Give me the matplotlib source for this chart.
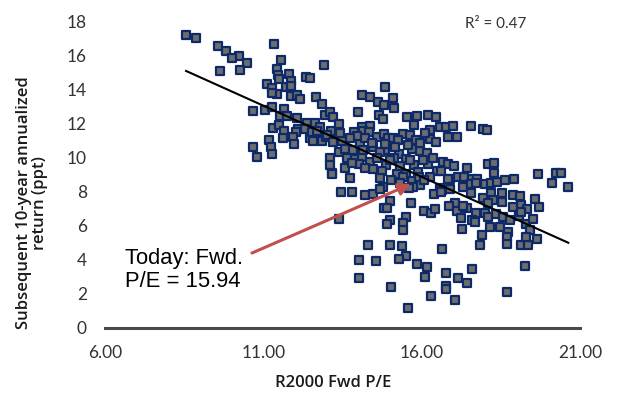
import numpy as np
import matplotlib
matplotlib.use("Agg")
import matplotlib.pyplot as plt

# Russell 2000 forward P/E vs. subsequent 10-year annualized return (ppt)
pe = [
    8.56, 8.86, 9.56, 9.81, 10.22, 10.00, 10.47, 9.64, 10.26, 11.34,
    11.55, 11.44, 11.45, 11.81, 11.50, 11.87, 11.12, 11.27, 11.73, 11.88,
    11.42, 11.26, 11.87, 12.06, 12.16, 12.35, 12.47, 10.66, 11.05, 11.27,
    11.64, 11.54, 11.75, 12.07, 12.37, 11.29, 11.49, 11.65, 12.08, 12.32,
    12.02, 11.63, 11.93, 11.19, 11.97, 11.23, 10.66, 11.28, 10.81, 12.47,
    12.92, 14.84, 12.66, 12.84, 14.12, 14.38, 14.63, 14.82, 15.09, 15.13,
    14.00, 14.65, 14.78, 15.55, 15.84, 15.77, 16.19, 16.44, 16.58, 16.77,
    16.98, 17.56, 17.95, 18.07, 16.82, 17.10, 16.26, 16.26, 16.45,
    12.95, 13.12, 13.21, 13.40, 12.63, 12.79, 12.53, 12.69, 12.58, 12.84,
    12.97, 13.14, 13.35, 13.49, 13.12, 13.10, 13.16, 13.39, 13.58, 13.63,
    13.82,
    13.87, 14.10, 14.37, 14.16, 14.34, 14.05, 13.89, 14.10, 14.47, 14.60,
    14.81, 14.93, 15.10, 15.40, 15.63, 15.82, 14.84, 14.68, 15.29, 15.13,
    15.50, 15.71, 15.95, 16.16, 14.03, 14.37, 14.45, 14.87, 14.74, 15.21,
    15.50, 15.76, 15.89, 16.21, 16.47, 16.66, 16.84, 13.74, 14.68, 15.42,
    16.26,
    13.42, 13.00, 13.21, 13.95, 14.21, 13.74, 14.43, 14.84, 15.25, 15.57,
    15.95, 16.10, 15.16, 14.15, 15.00, 14.60, 14.21, 15.31, 15.63, 16.04,
    16.36, 13.58, 13.80, 15.03, 15.69, 15.95, 16.58,
    17.02, 17.42, 18.08, 18.29, 18.29, 19.68, 20.24, 20.39, 20.10, 20.63,
    16.62, 16.91, 17.16, 17.34, 17.58, 17.76, 18.00, 18.18, 18.39, 18.63,
    18.90, 16.63, 16.91, 17.29, 17.55, 17.57, 17.71, 18.19, 18.24, 18.55,
    18.54, 18.87, 19.10, 19.13, 18.87, 19.58, 19.70, 19.33, 17.05, 17.12,
    17.42, 17.71, 17.23, 17.58, 17.68, 18.00, 18.10, 18.35, 18.58, 18.80,
    19.06, 19.15, 19.31, 19.53, 19.41, 19.63, 18.16, 18.47, 18.73, 17.26,
    17.89, 18.68, 18.71, 17.83, 19.14, 19.37, 19.29, 16.63, 19.26, 17.58,
    16.78, 17.16, 17.44, 16.77, 16.77, 18.71, 17.06, 17.29, 17.95, 18.11,
    13.16, 13.44, 13.79, 14.21, 14.45, 14.79, 14.68, 15.32, 15.72, 15.61,
    15.90, 16.08, 14.99, 14.80, 14.92, 15.66, 15.00, 14.91, 15.49, 15.42,
    15.40, 16.07, 16.28, 16.42, 16.40, 16.61, 16.84, 16.87, 13.39, 14.31,
    15.00, 15.37, 15.50, 15.28, 14.01, 14.56, 15.84, 16.18, 16.09, 14.03,
    15.02, 16.30, 15.58,
]
ret = [
    17.24, 17.04, 16.57, 16.31, 16.02, 15.86, 15.61, 15.10, 15.19, 16.71,
    15.76, 15.22, 14.88, 14.96, 14.63, 14.53, 14.34, 14.14, 14.18, 14.25,
    13.76, 13.84, 13.66, 13.69, 13.47, 14.75, 14.69, 12.75, 12.82, 13.02,
    12.86, 12.49, 12.47, 12.34, 12.04, 11.76, 11.94, 11.59, 11.72, 11.71,
    11.51, 11.18, 11.25, 11.06, 10.84, 10.66, 10.63, 10.22, 10.06, 11.18,
    15.45, 14.18, 13.57, 13.18, 13.69, 13.57, 13.31, 13.12, 13.51, 12.92,
    12.72, 12.51, 12.28, 12.39, 12.45, 11.94, 12.53, 12.41, 11.84, 11.84,
    11.90, 11.90, 11.71, 11.65, 11.24, 11.24, 11.63, 11.10, 10.92,
    12.53, 12.69, 12.43, 11.98, 12.04, 11.84, 11.55, 11.59, 11.00, 11.00,
    11.22, 11.59, 11.06, 11.00, 10.02, 9.59, 9.14, 10.37, 10.53, 10.02,
    10.47,
    11.55, 11.84, 11.90, 11.59, 11.55, 10.86, 9.94, 10.08, 10.63, 11.25,
    11.39, 11.16, 11.16, 11.39, 11.35, 11.08, 10.47, 10.37, 10.22, 9.98,
    9.94, 10.53, 10.41, 10.28, 9.63, 9.78, 9.35, 9.59, 9.24, 9.04,
    9.04, 9.59, 9.20, 9.63, 9.24, 9.78, 9.65, 8.84, 8.81, 8.90,
    8.90,
    11.49, 11.35, 10.96, 11.30, 11.18, 11.18, 10.88, 10.82, 11.06, 10.76,
    10.88, 11.47, 10.65, 10.47, 9.88, 9.98, 9.41, 9.53, 9.88, 9.88,
    10.00, 9.41, 9.71, 8.71, 8.65, 8.41, 8.24,
    9.55, 9.39, 9.63, 9.69, 9.09, 9.06, 9.14, 9.12, 8.55, 8.31,
    9.21, 8.75, 8.90, 8.90, 8.79, 8.75, 8.50, 8.55, 8.61, 8.71,
    8.79, 8.10, 8.18, 8.31, 8.45, 7.96, 8.55, 7.96, 7.53, 7.43,
    7.92, 7.85, 7.79, 7.26, 7.09, 7.58, 7.12, 7.01, 7.38, 6.88,
    7.04, 6.79, 6.47, 6.35, 6.21, 6.74, 6.53, 6.68, 6.55, 6.35,
    6.59, 6.84, 6.12, 6.41, 5.76, 5.22, 5.96, 5.92, 5.65, 5.82,
    5.50, 5.37, 4.93, 4.87, 4.87, 4.89, 5.37, 4.66, 3.63, 3.47,
    3.24, 2.97, 2.62, 2.50, 2.32, 2.10, 1.62, 7.16, 7.63, 7.34,
    9.06, 8.00, 8.00, 7.82, 7.88, 8.28, 8.18, 8.51, 8.31, 8.22,
    8.90, 8.71, 7.47, 7.04, 7.04, 7.34, 6.35, 6.12, 6.55, 6.19,
    5.76, 6.88, 6.78, 7.00, 7.86, 8.02, 8.75, 7.18, 6.39, 4.86,
    4.86, 4.84, 4.25, 4.08, 4.00, 3.96, 3.76, 3.57, 3.02, 2.97,
    2.42, 1.87, 1.16,
]

today_pe = 15.94
r_squared = 0.47
x_ticks = [6, 11, 16, 21]
y_ticks = list(range(0, 19, 2))

# callout arrow: from the label towards today's valuation in the cloud
arrow_start = (10.64, 4.41)
arrow_end = (15.66, 8.47)

pe = np.asarray(pe)
ret = np.asarray(ret)

fig = plt.figure(figsize=(6.31, 3.94), dpi=100)
ax = fig.add_axes([105 / 631, 66 / 394, 475 / 631, 306 / 394])

tick_font = dict(family="Lato", weight="normal", size=12.5, color="#333333")
label_font = dict(family="Open Sans", weight="semibold", size=12, color="#1a1a1a")

ax.scatter(pe, ret, marker="s", s=27, facecolor="#6d6d6d",
           edgecolor="#0c2a6a", linewidth=1.6, zorder=3)

# least-squares trend line across the data range
slope, intercept = np.polyfit(pe, ret, 1)
xs = np.array([pe.min(), pe.max()])
ax.plot(xs, intercept + slope * xs, color="black", lw=1.5, zorder=4)

ax.set_xlim(6, 21)
ax.set_ylim(0, 18)
ax.set_xticks(x_ticks)
ax.set_xticklabels([f"{v:.2f}" for v in x_ticks], fontdict=tick_font)
ax.set_yticks(y_ticks)
ax.set_yticklabels([str(v) for v in y_ticks], fontdict=tick_font)
ax.tick_params(axis="both", length=0)
ax.tick_params(axis="x", pad=12)
ax.tick_params(axis="y", pad=13)

for side in ("top", "right", "left"):
    ax.spines[side].set_visible(False)
ax.spines["bottom"].set_color("#4a4a4a")
ax.spines["bottom"].set_linewidth(2.2)

ax.set_xlabel("R2000 Fwd P/E", fontdict=label_font)
ax.xaxis.set_label_coords((333 - 105) / 475, ((394 - 383) / 394 - 66 / 394) / (306 / 394))
ax.xaxis.label.set_va("center")
ax.set_ylabel("Subsequent 10-year annualized\nreturn (ppt)", fontdict=label_font,
              multialignment="center", linespacing=1.0)
ax.yaxis.set_label_coords((32 - 105) / 475, ((394 - 203) / 394 - 66 / 394) / (306 / 394))
ax.yaxis.label.set_va("center")

ax.text(18.35, 17.9, f"R\u00b2 = {r_squared:.2f}", fontsize=11, family="Lato",
        color="#333333", ha="center", va="center")

ax.annotate("", xy=arrow_end, xytext=arrow_start,
            arrowprops=dict(arrowstyle="-|>", color="#c0504d", lw=2.2,
                            mutation_scale=18, shrinkA=0, shrinkB=0),
            zorder=5)
ax.text(6.63, 3.40, f"Today: Fwd.\nP/E = {today_pe:.2f}", fontsize=15.8,
        family="Liberation Sans", color="black", ha="left", va="center",
        linespacing=1.1, zorder=5)

fig.savefig("out.png", dpi=100)
